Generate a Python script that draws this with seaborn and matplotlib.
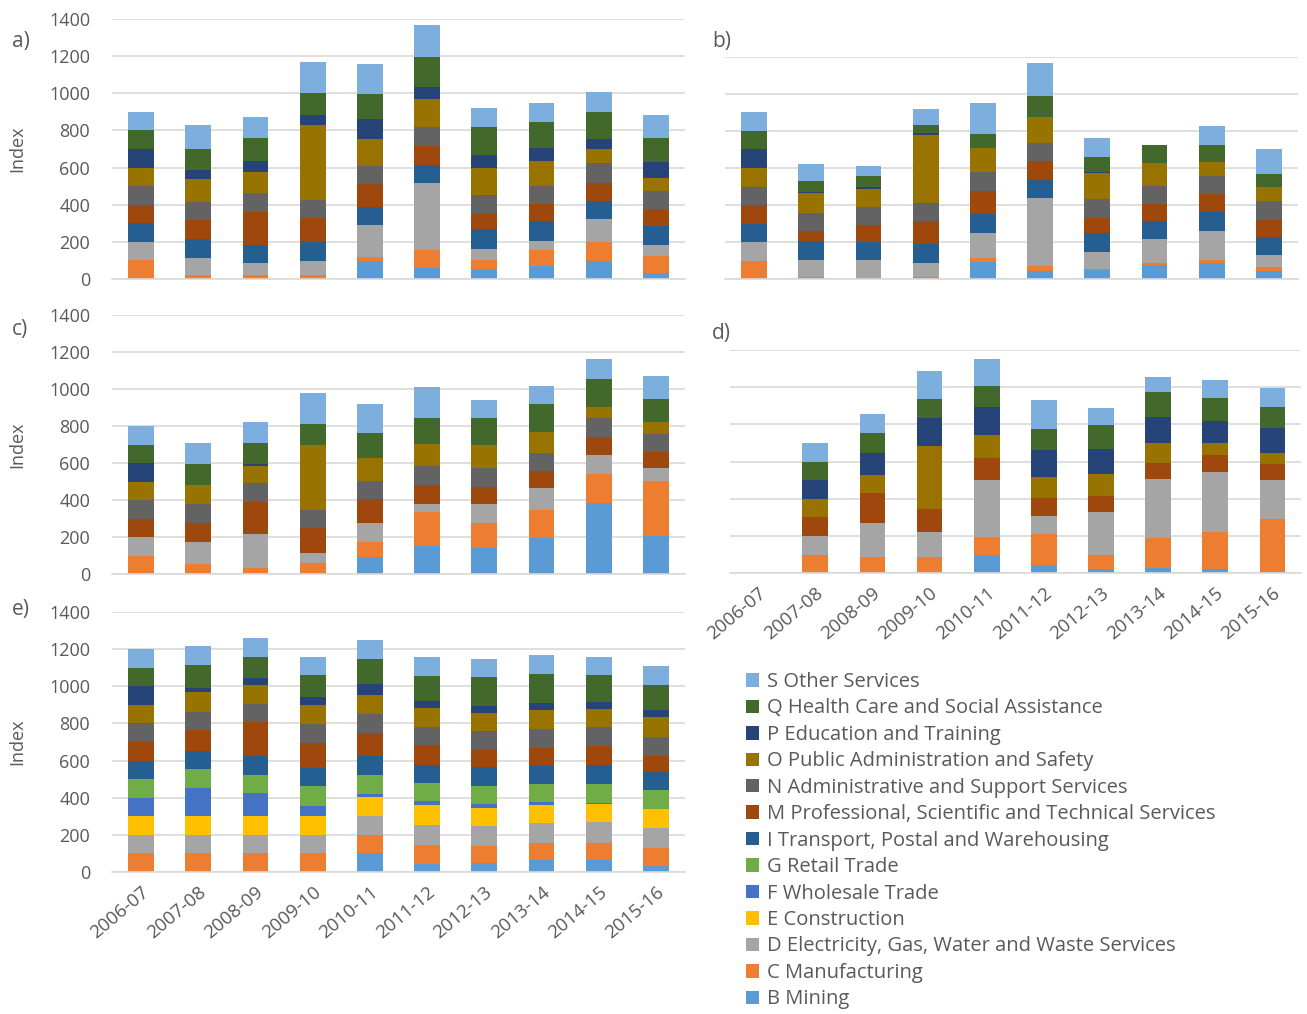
import matplotlib
matplotlib.use("Agg")
import matplotlib.pyplot as plt
import numpy as np
import seaborn as sns
from matplotlib.patches import Patch

# Financial years on the x axis
YEARS = ["2006-07", "2007-08", "2008-09", "2009-10", "2010-11",
         "2011-12", "2012-13", "2013-14", "2014-15", "2015-16"]

# Industry codes, stacked bottom to top
INDUSTRIES = ["B", "C", "D", "E", "F", "G", "I", "M", "N", "O", "P", "Q", "S"]

INDUSTRY_NAMES = {
    "B": "B Mining",
    "C": "C Manufacturing",
    "D": "D Electricity, Gas, Water and Waste Services",
    "E": "E Construction",
    "F": "F Wholesale Trade",
    "G": "G Retail Trade",
    "I": "I Transport, Postal and Warehousing",
    "M": "M Professional, Scientific and Technical Services",
    "N": "N Administrative and Support Services",
    "O": "O Public Administration and Safety",
    "P": "P Education and Training",
    "Q": "Q Health Care and Social Assistance",
    "S": "S Other Services",
}

INDUSTRY_COLORS = {
    "B": "#5B9BD5", "C": "#ED7D31", "D": "#A5A5A5", "E": "#FFC000",
    "F": "#4472C4", "G": "#70AD47", "I": "#255E91", "M": "#9E480E",
    "N": "#636363", "O": "#997300", "P": "#264478", "Q": "#43682B",
    "S": "#7CAFDD",
}

# Index values
PANEL_A = {
    "B": [0, 0, 0, 0, 95, 59, 50, 70, 94, 32],
    "C": [100, 18, 18, 18, 20, 96, 51, 85, 106, 90],
    "D": [100, 92, 65, 76, 173, 360, 61, 50, 120, 62],
    "I": [100, 102, 101, 102, 99, 99, 104, 106, 101, 102],
    "M": [100, 105, 176, 130, 124, 104, 83, 90, 94, 88],
    "N": [100, 99, 101, 99, 99, 99, 103, 101, 108, 99],
    "O": [100, 120, 113, 407, 144, 151, 144, 133, 75, 72],
    "P": [100, 49, 61, 50, 106, 69, 72, 69, 58, 83],
    "Q": [100, 113, 123, 119, 139, 158, 153, 144, 144, 132],
    "S": [100, 134, 117, 171, 162, 175, 102, 99, 110, 126],
}

PANEL_B = {
    "B": [0, 0, 0, 0, 95, 45, 52, 75, 88, 43],
    "C": [100, 13, 7, 13, 22, 29, 6, 15, 18, 22],
    "D": [100, 91, 97, 77, 135, 363, 88, 126, 156, 68],
    "I": [100, 103, 97, 100, 100, 99, 102, 98, 99, 97],
    "M": [100, 52, 90, 124, 122, 102, 84, 92, 97, 90],
    "N": [100, 100, 101, 99, 103, 95, 101, 99, 99, 100],
    "O": [100, 105, 95, 365, 129, 140, 138, 124, 76, 76],
    "P": [100, 9, 11, 9, 4, 2, 8, 0, 2, 0],
    "Q": [100, 59, 59, 47, 72, 112, 82, 95, 88, 74],
    "S": [100, 88, 54, 82, 167, 179, 103, 0, 106, 131],
}

PANEL_C = {
    "B": [0, 0, 0, 0, 92, 155, 140, 196, 383, 207],
    "C": [100, 54, 36, 63, 84, 183, 139, 153, 157, 297],
    "D": [100, 119, 180, 50, 103, 44, 103, 117, 106, 68],
    "M": [100, 106, 176, 135, 126, 100, 91, 90, 96, 87],
    "N": [100, 101, 101, 98, 99, 103, 99, 101, 100, 101],
    "O": [100, 101, 90, 352, 122, 117, 126, 113, 63, 61],
    "P": [100, 0, 13, 0, 0, 0, 0, 0, 0, 0],
    "Q": [100, 115, 111, 116, 135, 140, 144, 148, 150, 128],
    "S": [100, 111, 114, 163, 157, 168, 99, 99, 106, 122],
}

PANEL_D = {
    "B": [0, 0, 0, 0, 97, 45, 21, 30, 21, 7],
    "C": [0, 100, 90, 86, 98, 164, 76, 158, 199, 285],
    "D": [0, 100, 182, 136, 306, 99, 234, 319, 322, 209],
    "M": [0, 100, 161, 123, 120, 95, 84, 84, 93, 84],
    "O": [0, 100, 95, 339, 120, 116, 118, 107, 63, 59],
    "P": [0, 100, 120, 150, 154, 143, 136, 143, 120, 136],
    "Q": [0, 100, 104, 100, 113, 111, 126, 135, 125, 111],
    "S": [0, 100, 102, 154, 143, 158, 91, 80, 95, 106],
}

PANEL_E = {
    "B": [0, 0, 0, 0, 100, 41, 49, 61, 61, 32],
    "C": [100, 100, 100, 100, 100, 103, 91, 92, 94, 94],
    "D": [100, 100, 100, 100, 103, 108, 105, 108, 113, 110],
    "E": [100, 103, 103, 103, 99, 106, 99, 99, 99, 101],
    "F": [100, 151, 121, 54, 18, 22, 23, 16, 4, 3],
    "G": [100, 99, 99, 103, 103, 99, 97, 96, 104, 101],
    "I": [100, 101, 104, 100, 99, 99, 103, 99, 103, 99],
    "M": [100, 110, 180, 135, 127, 104, 90, 99, 101, 86],
    "N": [100, 97, 99, 101, 101, 99, 101, 101, 100, 103],
    "O": [100, 108, 99, 105, 101, 105, 97, 101, 99, 104],
    "P": [100, 25, 40, 41, 61, 37, 40, 38, 38, 42],
    "Q": [100, 124, 113, 117, 135, 135, 154, 158, 144, 131],
    "S": [100, 99, 103, 99, 101, 103, 101, 99, 101, 105],
}

TEXT_COLOR = "#595959"
GRID_COLOR = "#D9D9D9"
FIG_W, FIG_H = 1307, 1014


def px_axes(fig, left, right, top, bottom):
    """Add axes from pixel edges (origin at top-left)."""
    return fig.add_axes([left / FIG_W, 1 - bottom / FIG_H,
                         (right - left) / FIG_W, (bottom - top) / FIG_H])


def draw_panel(ax, data, ymax, show_y, show_x):
    """Stacked bars: draw running totals from the top layer down."""
    running = np.zeros(len(YEARS))
    layers = []
    for code in INDUSTRIES:
        running = running + np.array(data.get(code, [0] * len(YEARS)), dtype=float)
        layers.append((code, running.copy()))

    for code, top in reversed(layers):
        sns.barplot(x=YEARS, y=top, order=YEARS, color=INDUSTRY_COLORS[code],
                    saturation=1, width=0.45, linewidth=0, errorbar=None, ax=ax)

    ax.set_xlim(-0.5, len(YEARS) - 0.5)
    ax.set_ylim(0, ymax)
    ax.set_yticks(range(0, ymax + 1, 200))
    ax.yaxis.grid(True, color=GRID_COLOR, linewidth=1.2)
    ax.xaxis.grid(False)
    ax.set_axisbelow(True)
    for side in ("top", "right", "left"):
        ax.spines[side].set_visible(False)
    ax.spines["bottom"].set_color(GRID_COLOR)
    ax.spines["bottom"].set_linewidth(1.2)
    ax.tick_params(length=0, colors=TEXT_COLOR, labelsize=13)
    ax.tick_params(axis="y", pad=16)
    ax.set_xlabel("")
    ax.set_ylabel("")

    if show_y:
        ax.set_ylabel("Index", color=TEXT_COLOR, fontsize=13)
        ax.yaxis.set_label_coords(-0.151, 0.5)
    else:
        ax.tick_params(labelleft=False)

    if show_x:
        ax.set_xticks(range(len(YEARS)))
        ax.set_xticklabels(YEARS, rotation=40, ha="right", rotation_mode="anchor",
                           fontsize=13.5)
        ax.tick_params(axis="x", pad=8)
    else:
        ax.tick_params(labelbottom=False)


sns.set_theme(style="white")
plt.rcParams["font.family"] = ["Open Sans", "DejaVu Sans"]

fig = plt.figure(figsize=(FIG_W / 100, FIG_H / 100), dpi=100)

ax_a = px_axes(fig, 112.4, 684.6, 19.3, 278.7)
ax_b = px_axes(fig, 725.4, 1297.6, 56.7, 279.3)
ax_c = px_axes(fig, 112.4, 684.6, 315.0, 574.3)
ax_d = px_axes(fig, 729.5, 1301.0, 350.0, 573.3)
ax_e = px_axes(fig, 112.4, 684.6, 612.3, 871.7)

draw_panel(ax_a, PANEL_A, 1400, show_y=True, show_x=False)
draw_panel(ax_b, PANEL_B, 1200, show_y=False, show_x=False)
draw_panel(ax_c, PANEL_C, 1400, show_y=True, show_x=False)
draw_panel(ax_d, PANEL_D, 1200, show_y=False, show_x=True)
draw_panel(ax_e, PANEL_E, 1400, show_y=True, show_x=True)

# Panel letters
for letter, x, y in [("a)", 12, 42), ("b)", 712, 42), ("c)", 12, 330),
                     ("d)", 712, 333), ("e)", 12, 610)]:
    fig.text(x / FIG_W, 1 - y / FIG_H, letter, color=TEXT_COLOR,
             fontsize=15, va="center", ha="left")

# Legend, top of the list is the top of the stack
handles = [Patch(facecolor=INDUSTRY_COLORS[c], edgecolor="none")
           for c in reversed(INDUSTRIES)]
labels = [INDUSTRY_NAMES[c] for c in reversed(INDUSTRIES)]
fig.legend(handles, labels, loc="upper left",
           bbox_to_anchor=(746 / FIG_W, 1 - 672 / FIG_H),
           frameon=False, fontsize=14.5, labelcolor=TEXT_COLOR,
           handlelength=0.65, handleheight=0.65, handletextpad=0.38,
           labelspacing=0.32, borderaxespad=0, borderpad=0)

fig.savefig("out.png", dpi=100)
